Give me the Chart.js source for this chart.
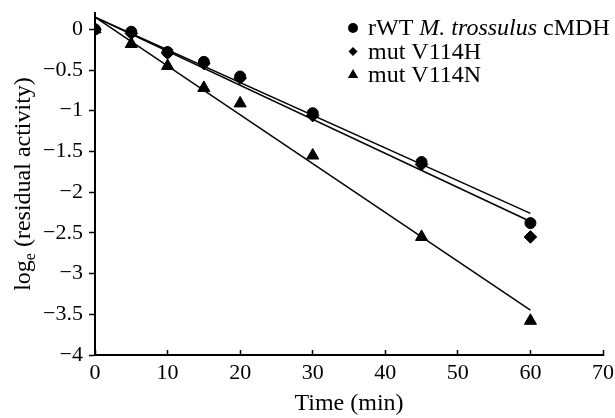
<!DOCTYPE html>
<html>
<head>
<meta charset="utf-8">
<script src="https://cdn.jsdelivr.net/npm/chart.js@4/dist/chart.umd.min.js"></script>
<style>
    body { margin: 0; background: #fff; }
    #wrap { width: 615px; height: 418px; }
</style>
</head>
<body>
<div id="wrap"><canvas id="inactChart" width="615" height="418"></canvas></div>
<script>
// sampling times (min)
var timeList = [0, 5, 10, 15, 20, 30, 45, 60];

// log_e of residual activity at each time
var rwtList = [0, -0.03, -0.28, -0.40, -0.58, -1.03, -1.63, -2.38];
var v114hList = [0, -0.05, -0.29, -0.42, -0.60, -1.06, -1.66, -2.55];
var v114nList = [0, -0.18, -0.45, -0.72, -0.91, -1.55, -2.55, -3.58];

// fitted lines, start and end
var fitTimes = [0, 60];
var rwtFit = [0.15, -2.26];
var v114hFit = [0.15, -2.36];
var v114nFit = [0.15, -3.45];

var xTickList = [0, 10, 20, 30, 40, 50, 60, 70];
var yTickList = [0, -0.5, -1, -1.5, -2, -2.5, -3, -3.5, -4];

var serif = "'Liberation Serif', 'Times New Roman', serif";

function toPoints(xs, ys) {
    var pts = [];
    for (let i = 0; i < xs.length; i++) {
        pts.push({x: xs[i], y: ys[i]});
    }
    return pts;
}

function markerSet(label, ys, style, radius) {
    return {
        label: label,
        data: toPoints(timeList, ys),
        showLine: false,
        pointStyle: style,
        pointRadius: radius,
        pointHoverRadius: radius,
        pointBackgroundColor: '#000',
        pointBorderColor: '#000',
        pointBorderWidth: 1
    };
}

function fitSet(ys) {
    return {
        data: toPoints(fitTimes, ys),
        showLine: true,
        borderColor: '#000',
        borderWidth: 1.5,
        pointRadius: 0,
        fill: false
    };
}

function fmtMinus(v) {
    return String(v).replace('-', '\u2212');
}

// draws a filled marker of the given shape
function drawMark(ctx, style, x, y, r) {
    ctx.beginPath();
    if (style === 'circle') {
        ctx.arc(x, y, r, 0, Math.PI * 2);
    } else if (style === 'rectRot') {
        ctx.moveTo(x - r, y);
        ctx.lineTo(x, y - r);
        ctx.lineTo(x + r, y);
        ctx.lineTo(x, y + r);
    } else {
        ctx.moveTo(x, y - r);
        ctx.lineTo(x + r * 0.866, y + r / 2);
        ctx.lineTo(x - r * 0.866, y + r / 2);
    }
    ctx.closePath();
    ctx.fill();
}

// legend with italic species name
var legendPlugin = {
    id: 'sideLegend',
    afterDraw: function (chart) {
        var ctx = chart.ctx;
        ctx.save();
        ctx.fillStyle = '#000';
        ctx.textBaseline = 'alphabetic';
        var rows = [
            {style: 'circle', r: 5, parts: [['rWT ', ''], ['M. trossulus', 'italic '], [' cMDH', '']]},
            {style: 'rectRot', r: 4.5, parts: [['mut V114H', '']]},
            {style: 'triangle', r: 6, parts: [['mut V114N', '']]}
        ];
        for (let i = 0; i < rows.length; i++) {
            var base = 35 + i * 23.5;
            drawMark(ctx, rows[i].style, 353, base - 7, rows[i].r);
            var tx = 368;
            rows[i].parts.forEach(function (p) {
                ctx.font = p[1] + '24px ' + serif;
                ctx.fillText(p[0], tx, base);
                tx += ctx.measureText(p[0]).width;
            });
        }
        ctx.restore();
    }
};

// y title needs a subscript e, so it is drawn by hand
var yTitlePlugin = {
    id: 'yTitle',
    afterDraw: function (chart) {
        var ctx = chart.ctx;
        var area = chart.chartArea;
        var big = '24px ' + serif;
        var small = '16px ' + serif;
        ctx.save();
        ctx.font = big;
        var w1 = ctx.measureText('log').width;
        var w3 = ctx.measureText(' (residual activity)').width;
        ctx.font = small;
        var w2 = ctx.measureText('e').width;
        var total = w1 + w2 + w3;
        ctx.translate(30, (area.top + area.bottom) / 2);
        ctx.rotate(-Math.PI / 2);
        ctx.fillStyle = '#000';
        ctx.textBaseline = 'alphabetic';
        var sx = -total / 2;
        ctx.font = big;
        ctx.fillText('log', sx, 0);
        ctx.font = small;
        ctx.fillText('e', sx + w1, 5);
        ctx.font = big;
        ctx.fillText(' (residual activity)', sx + w1 + w2, 0);
        ctx.restore();
    }
};

var ctx1 = document.getElementById('inactChart').getContext('2d');
new Chart(ctx1, {
    type: 'scatter',
    data: {
        datasets: [
            markerSet('rWT M. trossulus cMDH', rwtList, 'circle', 5.5),
            markerSet('mut V114H', v114hList, 'rectRot', 6.3),
            markerSet('mut V114N', v114nList, 'triangle', 7),
            fitSet(rwtFit),
            fitSet(v114hFit),
            fitSet(v114nFit)
        ]
    },
    options: {
        responsive: false,
        animation: false,
        layout: {
            padding: {left: 0, top: 13, right: 12, bottom: 0}
        },
        plugins: {
            legend: {display: false},
            tooltip: {enabled: false}
        },
        scales: {
            x: {
                type: 'linear',
                min: 0,
                max: 70,
                afterBuildTicks: function (scale) {
                    scale.ticks = xTickList.map(function (v) { return {value: v}; });
                },
                afterFit: function (scale) {
                    scale.height = 63;
                    scale.paddingLeft = 0;
                    scale.paddingRight = 0;
                },
                grid: {
                    drawOnChartArea: false,
                    color: '#000',
                    tickLength: -5,
                    tickWidth: 1.5
                },
                border: {color: '#000', width: 2},
                ticks: {
                    color: '#000',
                    padding: 10,
                    maxRotation: 0,
                    font: {family: serif, size: 22}
                },
                title: {
                    display: true,
                    text: 'Time (min)',
                    color: '#000',
                    padding: {top: 0, bottom: 0},
                    font: {family: serif, size: 24}
                }
            },
            y: {
                type: 'linear',
                min: -4,
                max: 0.2,
                afterBuildTicks: function (scale) {
                    scale.ticks = yTickList.map(function (v) { return {value: v}; });
                },
                afterFit: function (scale) {
                    scale.width = 95;
                    scale.paddingTop = 0;
                    scale.paddingBottom = 0;
                },
                grid: {
                    drawOnChartArea: false,
                    color: '#000',
                    tickLength: 6,
                    tickWidth: 1.5
                },
                border: {color: '#000', width: 2},
                ticks: {
                    color: '#000',
                    padding: 6,
                    font: {family: serif, size: 22},
                    callback: function (value) {
                        return fmtMinus(value);
                    }
                }
            }
        }
    },
    plugins: [legendPlugin, yTitlePlugin]
});
</script>
</body>
</html>
